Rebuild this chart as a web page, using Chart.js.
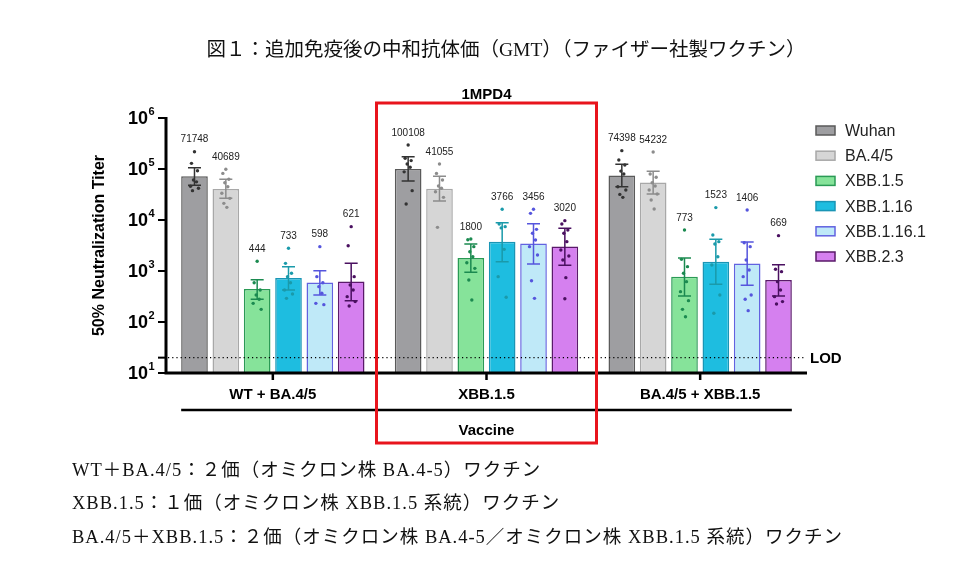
<!DOCTYPE html>
<html>
<head>
<meta charset="utf-8">
<script src="https://cdn.jsdelivr.net/npm/chart.js@4.4.1/dist/chart.umd.min.js"></script>
<style>
  body { margin: 0; background: #fff; }
  canvas { display: block; }
</style>
</head>
<body>
<canvas id="gmt" width="972" height="577"></canvas>
<script>
// vaccine groups and variants
const groups = ['WT + BA.4/5', 'XBB.1.5', 'BA.4/5 + XBB.1.5']
const variants = ['Wuhan', 'BA.4/5', 'XBB.1.5', 'XBB.1.16', 'XBB.1.16.1', 'XBB.2.3']

// GMT per variant, one value per vaccine group
const wuhanGMT = [71748, 100108, 74398]
const ba45GMT = [40689, 41055, 54232]
const xbb15GMT = [444, 1800, 773]
const xbb116GMT = [733, 3766, 1523]
const xbb1161GMT = [598, 3456, 1406]
const xbb23GMT = [621, 3020, 669]

// 95% CI
const wuhanLow = [48000, 58000, 45000]
const wuhanHigh = [106000, 174000, 124000]
const ba45Low = [26600, 23600, 32300]
const ba45High = [62800, 71800, 90000]
const xbb15Low = [279, 942, 324]
const xbb15High = [676, 3380, 1800]
const xbb116Low = [424, 1525, 548]
const xbb116High = [1217, 8850, 4180]
const xbb1161Low = [338, 1371, 524]
const xbb1161High = [1014, 8470, 3700]
const xbb23Low = [262, 1291, 324]
const xbb23High = [1414, 6870, 1330]

// individual titers
const wuhanDots = [
    [218000, 129000, 92600, 60800, 56000, 46000, 41800, 37600],
    [295000, 162000, 146000, 125000, 108000, 88000, 37600, 20600],
    [229000, 150000, 120000, 91000, 80000, 45000, 38700, 31800, 27800]
]
const ba45Dots = [
    [98600, 82000, 63000, 53800, 45000, 33400, 26600, 21200, 17700],
    [125000, 82000, 60800, 46400, 41800, 35900, 27800, 7180],
    [215000, 80000, 68700, 53800, 46400, 38700, 32300, 24700, 16400]
]
const xbb15Dots = [
    [1550, 590, 424, 338, 279, 232, 177],
    [4240, 4100, 3000, 2390, 1907, 1455, 1127, 666, 270],
    [6370, 1694, 1217, 902, 618, 394, 262, 177, 127]
]
const xbb116Dots = [
    [2788, 1414, 902, 774, 590, 424, 354, 291],
    [16200, 8360, 7400, 7000, 2660, 774, 305],
    [17500, 5080, 3760, 3380, 1907, 1312, 338, 148]
]
const xbb1161Dots = [
    [3000, 774, 590, 493, 365, 232, 219],
    [16200, 13500, 6560, 5480, 4060, 3000, 2060, 646, 291],
    [15700, 3590, 3000, 1644, 1047, 774, 338, 279, 167]
]
const xbb23Dots = [
    [7400, 3134, 774, 531, 424, 314, 251, 206],
    [9700, 8360, 6370, 5480, 3760, 2580, 1970, 1644, 740, 286],
    [4930, 1080, 970, 618, 424, 314, 251, 225]
]

const yTicks = [1, 2, 3, 4, 5, 6]   // exponents of 10
const lod = 20

const gmtSets = [wuhanGMT, ba45GMT, xbb15GMT, xbb116GMT, xbb1161GMT, xbb23GMT]
const lowSets = [wuhanLow, ba45Low, xbb15Low, xbb116Low, xbb1161Low, xbb23Low]
const highSets = [wuhanHigh, ba45High, xbb15High, xbb116High, xbb1161High, xbb23High]
const dotSets = [wuhanDots, ba45Dots, xbb15Dots, xbb116Dots, xbb1161Dots, xbb23Dots]

const fills = ['#9e9ea1', '#d6d6d6', '#86e39a', '#1ebde0', '#bfe9f8', '#d580ef']
const borders = ['#5a5a5a', '#a8a8a8', '#2a9a55', '#1a95b5', '#6262e0', '#5a1a6a']
const marks = ['#333333', '#8c8c8c', '#1b8a50', '#1a9aaa', '#5555dd', '#4a1060']
const jitter = [0, -3, 3, -1, 2, -4, 4, -2, 1, 0]

const SANS = 'Arial, "Liberation Sans", sans-serif'
const SERIF = '"Liberation Serif", "Noto Sans CJK JP", serif'

const overlay = {
    id: 'overlay',
    afterDatasetsDraw(chart) {
        const ctx = chart.ctx
        const y = chart.scales.y
        ctx.save()
        gmtSets.forEach((set, i) => {
            const meta = chart.getDatasetMeta(i)
            meta.data.forEach((bar, j) => {
                const x = bar.x
                // error bar
                const yl = y.getPixelForValue(lowSets[i][j])
                const yh = y.getPixelForValue(highSets[i][j])
                ctx.strokeStyle = marks[i]
                ctx.lineWidth = 1.5
                ctx.beginPath()
                ctx.moveTo(x, yl); ctx.lineTo(x, yh)
                ctx.moveTo(x - 6.5, yl); ctx.lineTo(x + 6.5, yl)
                ctx.moveTo(x - 6.5, yh); ctx.lineTo(x + 6.5, yh)
                ctx.stroke()
                // dots
                ctx.fillStyle = marks[i]
                dotSets[i][j].forEach((v, k) => {
                    ctx.beginPath()
                    ctx.arc(x + jitter[k % jitter.length], y.getPixelForValue(v), 1.7, 0, Math.PI * 2)
                    ctx.fill()
                })
                // value label above the highest dot
                const top = y.getPixelForValue(Math.max(...dotSets[i][j]))
                ctx.fillStyle = '#222'
                ctx.font = '10px ' + SANS
                ctx.textAlign = 'center'
                ctx.textBaseline = 'middle'
                ctx.fillText(String(set[j]), x, top - 12)
            })
        })
        ctx.restore()
    },
    afterDraw(chart) {
        const ctx = chart.ctx
        const area = chart.chartArea
        const y = chart.scales.y
        const xs = chart.scales.x
        ctx.save()

        // axes
        ctx.strokeStyle = '#000'
        ctx.lineWidth = 3
        ctx.beginPath()
        ctx.moveTo(area.left, area.top - 1)
        ctx.lineTo(area.left, area.bottom)
        ctx.lineTo(area.right, area.bottom)
        ctx.stroke()

        // y ticks + labels
        ctx.lineWidth = 2
        ctx.fillStyle = '#000'
        yTicks.forEach(e => {
            const py = y.getPixelForValue(Math.pow(10, e))
            ctx.beginPath()
            ctx.moveTo(area.left - 8, py); ctx.lineTo(area.left, py)
            ctx.stroke()
            ctx.textBaseline = 'middle'
            ctx.textAlign = 'right'
            ctx.font = 'bold 18px ' + SANS
            ctx.fillText('10', area.left - 18, py + 1)
            ctx.textAlign = 'left'
            ctx.font = 'bold 11px ' + SANS
            ctx.fillText(String(e), area.left - 17.5, py - 6)
        })
        const pl = y.getPixelForValue(lod)
        ctx.beginPath()
        ctx.moveTo(area.left - 8, pl); ctx.lineTo(area.left, pl)
        ctx.stroke()

        // LOD dotted line
        ctx.lineWidth = 1.2
        ctx.setLineDash([1.2, 3])
        ctx.beginPath()
        ctx.moveTo(area.left + 2, pl); ctx.lineTo(area.right - 2, pl)
        ctx.stroke()
        ctx.setLineDash([])
        ctx.font = 'bold 15px ' + SANS
        ctx.textAlign = 'left'
        ctx.fillText('LOD', area.right + 3, pl + 1)

        // y title
        ctx.save()
        ctx.translate(100, (area.top + area.bottom) / 2)
        ctx.rotate(-Math.PI / 2)
        ctx.textAlign = 'center'
        ctx.font = 'bold 16px ' + SANS
        ctx.fillText('50% Neutralization Titer', 0, 0)
        ctx.restore()

        // x ticks + group labels
        ctx.lineWidth = 2.5
        groups.forEach((g, j) => {
            const px = xs.getPixelForValue(j)
            ctx.beginPath()
            ctx.moveTo(px, area.bottom); ctx.lineTo(px, area.bottom + 7)
            ctx.stroke()
            ctx.font = 'bold 15px ' + SANS
            ctx.textAlign = 'center'
            ctx.fillText(g, px, area.bottom + 22)
        })
        const first = chart.getDatasetMeta(0).data[0]
        const last = chart.getDatasetMeta(variants.length - 1).data[groups.length - 1]
        ctx.beginPath()
        ctx.moveTo(first.x - first.width / 2, area.bottom + 37)
        ctx.lineTo(last.x + last.width / 2, area.bottom + 37)
        ctx.stroke()
        const mid = xs.getPixelForValue(1)
        ctx.fillText('Vaccine', mid, area.bottom + 58)

        // highlight box
        ctx.strokeStyle = '#e8141c'
        ctx.lineWidth = 3
        ctx.strokeRect(mid - 110, area.top - 15, 220, area.bottom - area.top + 85)
        ctx.fillText('1MPD4', mid, area.top - 23)

        // legend
        variants.forEach((v, i) => {
            const ly = 130.5 + i * 25.2
            ctx.fillStyle = fills[i]
            ctx.fillRect(816, ly - 4.5, 19, 9)
            ctx.strokeStyle = borders[i]
            ctx.lineWidth = 1.5
            ctx.strokeRect(816, ly - 4.5, 19, 9)
            ctx.fillStyle = '#222'
            ctx.font = '16px ' + SANS
            ctx.textAlign = 'left'
            ctx.fillText(v, 845, ly + 1)
        })

        // title and notes
        ctx.fillStyle = '#111'
        ctx.textAlign = 'center'
        ctx.font = '19.5px ' + SERIF
        ctx.fillText('図１：追加免疫後の中和抗体価（GMT）（ファイザー社製ワクチン）', 506, 51)
        ctx.textAlign = 'left'
        ctx.font = '18.5px ' + SERIF
        ctx.letterSpacing = '1px'
        ctx.fillText('WT＋BA.4/5：２価（オミクロン株 BA.4-5）ワクチン', 72, 471)
        ctx.fillText('XBB.1.5：１価（オミクロン株 XBB.1.5 系統）ワクチン', 72, 504)
        ctx.fillText('BA.4/5＋XBB.1.5：２価（オミクロン株 BA.4-5／オミクロン株 XBB.1.5 系統）ワクチン', 72, 538)
        ctx.letterSpacing = '0px'

        ctx.restore()
    }
}

const createChart = () => {
    const ctx = document.querySelector('#gmt')
    new Chart(ctx, {
        type: 'bar',
        data: {
            labels: groups,
            datasets: variants.map((v, i) => ({
                label: v,
                data: gmtSets[i],
                backgroundColor: fills[i],
                borderColor: borders[i],
                borderWidth: 1.5,
                barPercentage: 0.85,
                categoryPercentage: 0.88
            }))
        },
        options: {
            responsive: false,
            animation: false,
            layout: { padding: { left: 166, right: 165, top: 118, bottom: 204 } },
            scales: {
                x: { type: 'category', display: false },
                y: { type: 'logarithmic', min: 10, max: 1000000, display: false }
            },
            plugins: { legend: { display: false }, tooltip: { enabled: false } }
        },
        plugins: [overlay]
    })
}

createChart()
</script>
</body>
</html>
